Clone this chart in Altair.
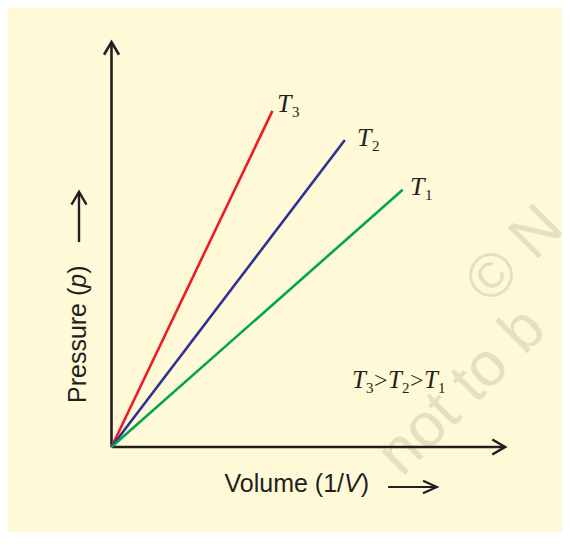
import altair as alt
import pandas as pd

# ---------------- data ----------------
temps = ["T3", "T2", "T1"]
temp_subscripts = ["3", "2", "1"]
inv_v_end = [4.09, 5.93, 7.40]      # 1/V at the end of each isotherm
p_end = [8.30, 7.58, 6.35]          # p at the end of each isotherm
label_inv_v = [4.205, 6.239, 7.586]  # where each T label sits
label_p = [8.264, 7.440, 6.222]
line_colors = ["#ED1C24", "#2E3192", "#00A651"]

axis_max = 10.0
watermark_lines = ["© N", "not to b"]

# ---------------- layout / style ----------------
W, H = 554, 524
XDOM = [-103.5 / 39.35, (W - 103.5) / 39.35]
YDOM = [-(H - 439) / 40.5, 439 / 40.5]
BG = "#FFF9D8"
INK = "#231F20"
WM = "#E6E0BE"
SERIF = "Liberation Serif"
SANS = "Liberation Sans"

xs = alt.Scale(domain=XDOM, nice=False, zero=False)
ys = alt.Scale(domain=YDOM, nice=False, zero=False)


def X(field="x"):
    return alt.X(f"{field}:Q", scale=xs, axis=None)


def Y(field="y"):
    return alt.Y(f"{field}:Q", scale=ys, axis=None)


def text_layer(x, y, txt, **kw):
    df = pd.DataFrame({"x": [x], "y": [y], "t": [txt]})
    base = dict(align="left", baseline="alphabetic", color=INK)
    base.update(kw)
    return alt.Chart(df).mark_text(**base).encode(x=X(), y=Y(), text="t:N")


layers = []

# watermark
wm_pos = [(9.62, 3.474), (7.383, -0.765)]
for (wx, wy), line in zip(wm_pos, watermark_lines):
    layers.append(text_layer(wx, wy, line, font=SANS, fontSize=62, angle=315, color=WM))

# axes
axes_df = pd.DataFrame({"x": [0.0, 0.0], "y": [0.0, 0.0],
                        "x2": [axis_max, 0.0], "y2": [0.0, axis_max]})
layers.append(alt.Chart(axes_df).mark_rule(color=INK, strokeWidth=2.6).encode(
    x=X(), y=Y(), x2="x2:Q", y2="y2:Q"))

HEAD_AX = "M-1.7,-1L0,0L-1.7,1"
HEAD_LB = "M-2.2,-1L0,0L-2.2,1"


def head(x, y, angle, shape, size, sw):
    df = pd.DataFrame({"x": [x], "y": [y]})
    return alt.Chart(df).mark_point(shape=shape, size=size, angle=angle, filled=False,
                                    stroke=INK, strokeWidth=sw, opacity=1,
                                    strokeJoin="miter").encode(x=X(), y=Y())


layers.append(head(axis_max, 0.0, 0, HEAD_AX, 225, 2.6))
layers.append(head(0.0, axis_max, 270, HEAD_AX, 225, 2.6))

# isotherms
rows = []
for t, xe, ye in zip(temps, inv_v_end, p_end):
    rows.append({"temp": t, "inv_v": 0.0, "p": 0.0, "o": 0})
    rows.append({"temp": t, "inv_v": xe, "p": ye, "o": 1})
lines_df = pd.DataFrame(rows)
layers.append(alt.Chart(lines_df).mark_line(strokeWidth=2.6).encode(
    x=X("inv_v"), y=Y("p"), order="o:Q",
    color=alt.Color("temp:N", scale=alt.Scale(domain=temps, range=line_colors), legend=None)))

# T labels
for sub, lx, ly in zip(temp_subscripts, label_inv_v, label_p):
    layers.append(text_layer(lx, ly, "T", font=SERIF, fontSize=26, fontStyle="italic"))
    layers.append(text_layer(lx, ly, sub, font=SERIF, fontSize=15, dx=15, dy=5))

# relation T3>T2>T1
rel_x, rel_y = 6.112, 1.457
rel_parts = [("T", 0, 0, 25, "italic"), ("3", 14, 5, 15, "normal"), (">", 22, 0, 24, "normal"),
             ("T", 36, 0, 25, "italic"), ("2", 50, 5, 15, "normal"), (">", 58, 0, 24, "normal"),
             ("T", 72, 0, 25, "italic"), ("1", 86, 5, 15, "normal")]
for txt, dx, dy, fs, st in rel_parts:
    layers.append(text_layer(rel_x, rel_y, txt, font=SERIF, fontSize=fs, fontStyle=st, dx=dx, dy=dy))

# x axis title
xt_x, xt_y = 5.909, -1.104
layers.append(text_layer(xt_x, xt_y, "Volume (1/", font=SANS, fontSize=25, align="right"))
layers.append(text_layer(xt_x, xt_y, "V", font=SANS, fontSize=25, fontStyle="italic"))
layers.append(text_layer(xt_x, xt_y, ")", font=SANS, fontSize=25, dx=16.7))

# x title arrow
xa_y, xa_x1, xa_x2 = -0.988, 7.03, 8.27
layers.append(alt.Chart(pd.DataFrame({"x": [xa_x1], "x2": [xa_x2], "y": [xa_y]})).mark_rule(
    color=INK, strokeWidth=2.2).encode(x=X(), x2="x2:Q", y=Y()))
layers.append(head(xa_x2, xa_y, 0, HEAD_LB, 160, 2.2))

# y axis title
yt_x, yt_y = -0.648, 3.933
layers.append(text_layer(yt_x, yt_y, "Pressure (", font=SANS, fontSize=25, align="right", angle=270))
layers.append(text_layer(yt_x, yt_y, "p", font=SANS, fontSize=25, fontStyle="italic", angle=270))
layers.append(text_layer(yt_x, yt_y, ")", font=SANS, fontSize=25, angle=270, dx=13.9))

# y title arrow
ya_x, ya_y1, ya_y2 = -0.826, 5.06, 6.30
layers.append(alt.Chart(pd.DataFrame({"x": [ya_x], "y": [ya_y1], "y2": [ya_y2]})).mark_rule(
    color=INK, strokeWidth=2.4).encode(x=X(), y=Y(), y2="y2:Q"))
layers.append(head(ya_x, ya_y2, 270, HEAD_AX, 225, 2.4))

chart = alt.layer(*layers).properties(
    width=W, height=H, background=BG, padding=0,
    autosize=alt.AutoSizeParams(type="none"),
).configure_view(strokeWidth=0)

chart.save("out.html", embed_options={"renderer": "svg", "actions": False})
